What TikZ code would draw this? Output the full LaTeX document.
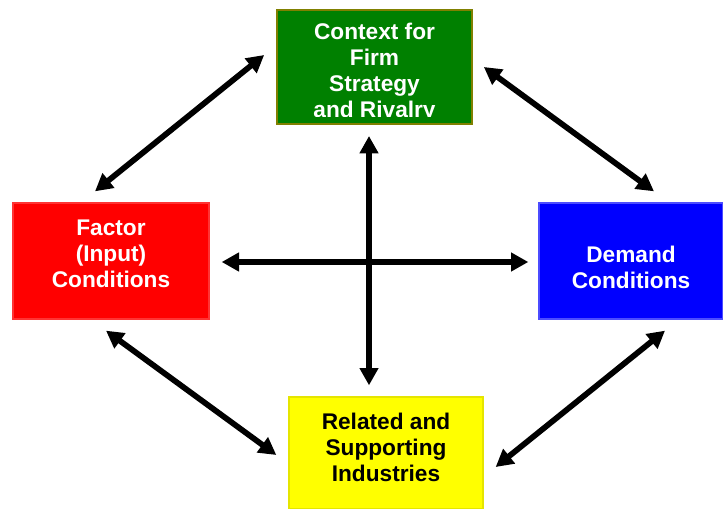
\documentclass[tikz,border=0pt]{standalone}
\usepackage{fontspec}
\setmainfont{Liberation Sans}
\usepackage{tikz}
\usetikzlibrary{arrows.meta,calc}
\definecolor{ctxclr}{RGB}{0,128,0}
\definecolor{ctxline}{RGB}{128,128,0}
\definecolor{facclr}{RGB}{255,0,0}
\definecolor{demclr}{RGB}{0,0,255}
\definecolor{relclr}{RGB}{255,255,0}
\tikzset{
    box/.style={rectangle,draw,line width=1pt,inner sep=0pt},
    txt/.style={align=center,inner sep=0pt,font=\fontsize{17}{19.5}\bfseries\selectfont},
    ctxbox/.style={box,draw=ctxline,fill=ctxclr,line width=1.5pt,minimum width=146pt,minimum height=85.5pt},
    facbox/.style={box,draw=facclr!80,fill=facclr,minimum width=147pt,minimum height=87pt},
    dembox/.style={box,draw=demclr!70,fill=demclr,minimum width=138pt,minimum height=87pt},
    relbox/.style={box,draw=relclr!90!black,fill=relclr,minimum width=145.5pt,minimum height=84pt},
    twoway/.style={{Triangle[length=13pt,width=13.5pt]}-{Triangle[length=13pt,width=13.5pt]},line width=4.3pt},
}
\begin{document}
\begin{tikzpicture}[x=0.75pt,y=-0.75pt]
\useasboundingbox (0,0) rectangle (723,509);

\node[ctxbox] (ctx)    at (374.5,67) {};
\node[facbox] (factor) at (111,261)  {};
\node[dembox] (demand) at (631,261)  {};
\node[relbox] (rel)    at (386,453)  {};

\node[txt,text=white] (factortxt) at ($(factor.center)+(0,-7)$) {Factor\\(Input)\\Conditions};
\node[txt,text=white] (demandtxt) at ($(demand.center)+(0,6)$)  {Demand\\Conditions};
\node[txt,text=black] (reltxt)    at ($(rel.center)+(0,-6)$)    {Related and\\Supporting\\Industries};

% last line of the green box is cut by its frame
\begin{scope}
\clip ($(ctx.north west)+(2,2)$) rectangle ($(ctx.south east)+(-2,-8)$);
\node[txt,text=white] (ctxtxt) at ($(ctx.center)+(0,6)$) {Context for\\Firm\\Strategy\\and Rivalry};
\end{scope}

\coordinate (tlA) at ($(factor.north)+(-16,-11)$);
\coordinate (tlB) at ($(ctx.west)+(-12,-12)$);
\coordinate (trA) at ($(ctx.east)+(11,0)$);
\coordinate (trB) at ($(demand.north)+(23,-11)$);
\coordinate (blA) at ($(factor.south)+(-5,11)$);
\coordinate (blB) at ($(rel.west)+(-12,2)$);
\coordinate (brA) at ($(rel.east)+(12,14)$);
\coordinate (brB) at ($(demand.south)+(34,11)$);
\coordinate (hA)  at ($(factor.east)+(12,1)$);
\coordinate (hB)  at ($(demand.west)+(-10,1)$);
\coordinate (vA)  at ($(ctx.south)+(-5.5,11)$);
\coordinate (vB)  at ($(rel.north)+(-17,-11)$);

\draw[twoway] (tlA) -- (tlB);
\draw[twoway] (trA) -- (trB);
\draw[twoway] (blA) -- (blB);
\draw[twoway] (brA) -- (brB);
\draw[twoway] (hA) -- (hB);
\draw[twoway] (vA) -- (vB);
\end{tikzpicture}
\end{document}
